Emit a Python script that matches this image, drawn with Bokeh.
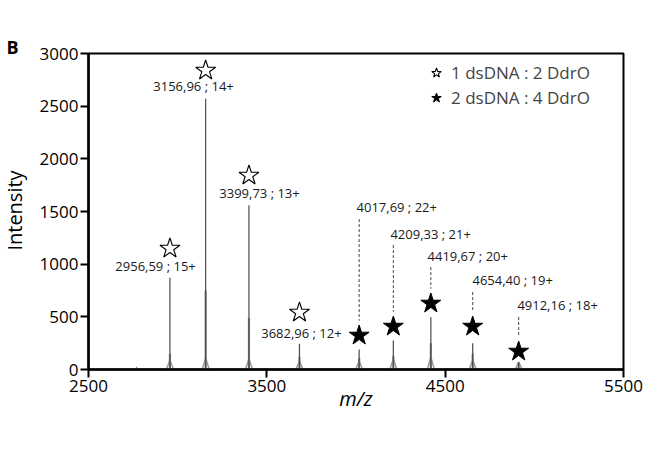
import math
from bokeh.plotting import figure
from bokeh.layouts import row
from bokeh.models import Legend, LegendItem, FixedTicker, Title
from bokeh.core.properties import value
from bokeh.embed import file_html
from bokeh.resources import INLINE

FONT = "Open Sans"

# ---- data ----
peak_mz = [2956.59, 3156.96, 3399.73, 3682.96, 4017.69, 4209.33, 4419.67, 4654.40, 4912.16]
peak_int = [870, 2570, 1560, 245, 190, 275, 495, 250, 70]        # dark sticks
gray_int = [150, 750, 490, 120, 110, 130, 250, 150, 70]          # gray component
hump_int = [90, 110, 100, 80, 80, 100, 120, 90, 70]              # broad base bumps
minor_mz = [2770, 5290]
minor_int = [25, 15]

peak_labels = ["2956,59 ; 15+", "3156,96 ; 14+", "3399,73 ; 13+", "3682,96 ; 12+",
               "4017,69 ; 22+", "4209,33 ; 21+", "4419,67 ; 20+", "4654,40 ; 19+",
               "4912,16 ; 18+"]
species = ["1 dsDNA : 2 DdrO"] * 4 + ["2 dsDNA : 4 DdrO"] * 5

# ---- annotation layout (positions of stars and labels) ----
open_star_y = [1149, 2839, 1842, 541]
open_text_x = [2876, 3089, 3459, 3694]
open_text_y = [987, 2687, 1671, 351]
fill_star_y = [323, 408, 627, 408, 171]
fill_text_x = [4003, 4193, 4401, 4653, 4905]
fill_text_y = [1538, 1291, 1082, 845, 608]

SIDE_W = 30
H = 450
TOP, BOTTOM = 53, 81

# side strip holding the panel letter and the y-axis title
# (its frame is aligned with the main frame; y range = pixels from the page bottom)
side = figure(width=SIDE_W, height=H, x_range=(0, SIDE_W), y_range=(BOTTOM, H - TOP),
              output_backend="svg", toolbar_location=None,
              min_border_left=0, min_border_right=0,
              min_border_top=TOP, min_border_bottom=BOTTOM)
side.axis.visible = False
side.grid.visible = False
side.outline_line_color = None
side.background_fill_color = "white"
side.border_fill_color = "white"
side.text([14], [H - 210], text=["Intensity"], angle=math.pi / 2, text_align="center",
          text_baseline="middle", text_font=value(FONT), text_font_size="20px",
          text_color="black")
side.add_layout(Title(text="B", align="left", offset=6, standoff=-10, text_font=FONT,
                      text_font_size="18px", text_font_style="bold", text_color="black"),
                "above")

p = figure(width=650 - SIDE_W, height=H, x_range=(2500, 5500), y_range=(0, 3000),
           output_backend="svg", toolbar_location=None,
           min_border_left=88 - SIDE_W, min_border_right=27, min_border_top=TOP,
           min_border_bottom=BOTTOM)
p.grid.visible = False
p.outline_line_color = "black"
p.outline_line_width = 2
p.background_fill_color = "white"
p.border_fill_color = "white"

# spectrum: base humps
hx = [[m - 20, m, m + 20] for m in peak_mz]
hy = [[0, h, 0] for h in hump_int]
p.multi_line(hx, hy, line_color="#9a9a9a", line_width=1.5)
# gray component
p.segment(x0=peak_mz, y0=[0] * 9, x1=peak_mz, y1=gray_int, line_color="#8c8c8c", line_width=2.2)
# dark sticks
p.segment(x0=peak_mz, y0=[0] * 9, x1=peak_mz, y1=peak_int, line_color="#4a4a4a", line_width=1.2)
p.segment(x0=minor_mz, y0=[0, 0], x1=minor_mz, y1=minor_int, line_color="#8c8c8c", line_width=1.2)

# dashed leader lines for the 2:4 species
fmz = peak_mz[4:]
p.segment(x0=fmz, y0=[t - 110 for t in fill_text_y], x1=fmz, y1=[s + 140 for s in fill_star_y],
          line_color="#444444", line_width=1, line_dash="3 2")

# stars
r_open = p.scatter(peak_mz[:4], open_star_y, marker="star", size=21, fill_color="white",
                   line_color="black", line_width=1.1)
r_fill = p.scatter(fmz, fill_star_y, marker="star", size=21, fill_color="black",
                   line_color="black")

# peak labels
p.text(open_text_x, open_text_y, text=peak_labels[:4], text_align="center",
       text_baseline="middle", text_font=value(FONT), text_font_size="13px", text_color="#1a1a1a")
p.text(fill_text_x, fill_text_y, text=peak_labels[4:], text_align="left",
       text_baseline="middle", text_font=value(FONT), text_font_size="13px", text_color="#1a1a1a")

# legend
legend = Legend(items=[LegendItem(label=species[0], renderers=[r_open]),
                       LegendItem(label=species[4], renderers=[r_fill])],
                location=(333, 259), border_line_color=None, background_fill_alpha=0,
                label_text_font=FONT, label_text_font_size="17px", glyph_width=30,
                glyph_height=25, label_height=25, spacing=0, padding=4, margin=0,
                label_standoff=0)
p.add_layout(legend)

# axes
for ax in (p.xaxis[0], p.yaxis[0]):
    ax.axis_line_width = 2.5
    ax.axis_line_color = "black"
    ax.major_tick_in = 0
    ax.major_tick_out = 8
    ax.major_tick_line_width = 2
    ax.minor_tick_out = 0
    ax.minor_tick_in = 0
    ax.major_label_text_font = FONT
    ax.major_label_text_font_size = "17px"
    ax.major_label_text_color = "black"
    ax.major_label_standoff = 2
    ax.axis_label_text_font = FONT
    ax.axis_label_text_font_size = "20px"
    ax.axis_label_text_color = "black"
p.xaxis.ticker = FixedTicker(ticks=[2500, 3500, 4500, 5500])
p.yaxis.ticker = FixedTicker(ticks=[0, 500, 1000, 1500, 2000, 2500, 3000])
p.xaxis.axis_label = "m/z"
p.xaxis.axis_label_text_font_style = "italic"
p.xaxis.axis_label_standoff = -10

open("out.html", "w").write(file_html(row(side, p, spacing=0), INLINE))
